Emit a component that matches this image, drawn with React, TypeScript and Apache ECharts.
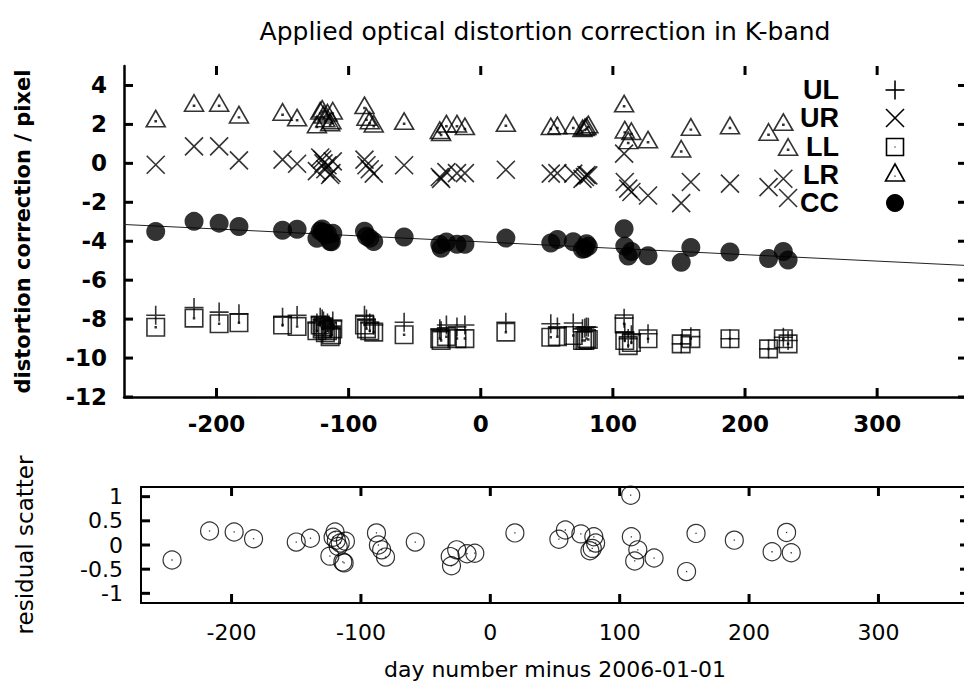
import React, { useEffect, useRef } from "react";
import * as echarts from "echarts";

// ---- data ----
const days = [-246, -217, -198, -183, -150, -139, -124, -121.5, -120, -119, -117.6, -116, -114, -113, -112, -88, -86.5, -84, -81, -58, -31, -30, -26, -18, -12, 19, 53, 58, 70, 77, 78.8, 80, 81.4, 108.5, 109, 111.6, 114, 126.6, 151.7, 159, 188.6, 217.8, 229, 232.6];
const ulVals = [-7.8, -7.4, -7.64, -7.73, -7.9, -7.81, -8.2, -7.9, -8.0, -8.1, -8.3, -8.2, -8.4, -8.5, -8.1, -7.8, -8.0, -8.2, -8.3, -8.16, -8.5, -8.6, -8.3, -8.4, -8.3, -8.16, -8.24, -8.4, -8.2, -8.5, -8.45, -8.4, -8.42, -7.95, -8.7, -9.0, -8.8, -8.75, -9.27, -8.9, -9.01, -9.53, -8.93, -9.1];
const urVals = [-0.07, 0.87, 0.87, 0.15, 0.19, -0.02, -0.4, 0.3, 0.2, 0.0, -0.3, -0.1, -0.6, -0.5, 0.1, 0.19, -0.1, -0.3, -0.53, -0.1, -0.7, -0.8, -0.45, -0.5, -0.5, -0.33, -0.53, -0.5, -0.53, -0.8, -0.7, -0.6, -0.62, 0.5, -0.96, -1.3, -1.47, -1.65, -2.04, -0.96, -1.04, -1.22, -0.79, -1.78];
const llVals = [-8.42, -7.95, -8.24, -8.19, -8.3, -8.38, -8.6, -8.3, -8.5, -8.4, -8.7, -8.6, -8.9, -8.8, -8.5, -8.3, -8.5, -8.6, -8.67, -8.8, -9.0, -9.1, -8.9, -9.0, -9.0, -8.67, -8.93, -8.9, -8.84, -9.1, -9.1, -9.0, -9.05, -8.24, -9.1, -9.36, -9.2, -9.01, -9.27, -9.0, -9.01, -9.53, -9.01, -9.27];
const lrVals = [2.3, 3.1, 3.1, 2.5, 2.64, 2.35, 2.0, 2.7, 2.8, 2.5, 2.3, 2.6, 2.1, 2.2, 2.7, 2.98, 2.38, 2.2, 2.04, 2.17, 1.7, 1.6, 2.04, 2.04, 1.9, 2.07, 1.9, 1.95, 1.95, 1.8, 1.85, 1.9, 2.0, 3.07, 1.73, 1.18, 1.65, 1.22, 0.75, 1.87, 1.95, 1.61, 2.12, 0.84];
const ccVals = [-3.5, -2.98, -3.07, -3.24, -3.44, -3.38, -3.85, -3.47, -3.37, -3.55, -3.68, -3.62, -4.01, -4.03, -3.59, -3.49, -3.74, -3.85, -4.01, -3.78, -4.17, -4.36, -4.04, -4.15, -4.16, -3.84, -4.09, -3.91, -4.03, -4.41, -4.37, -4.13, -4.26, -3.36, -4.25, -4.76, -4.53, -4.75, -5.08, -4.32, -4.55, -4.89, -4.53, -4.96];
const residVals = [-0.31, 0.29, 0.27, 0.13, 0.06, 0.14, -0.23, 0.16, 0.27, 0.1, -0.03, 0.04, -0.35, -0.37, 0.08, 0.25, 0.0, -0.1, -0.25, 0.06, -0.24, -0.43, -0.1, -0.18, -0.17, 0.25, 0.12, 0.31, 0.23, -0.12, -0.07, 0.17, 0.04, 1.03, 0.17, -0.33, -0.1, -0.27, -0.55, 0.24, 0.1, -0.14, 0.26, -0.16];
const fitDays = [-270, 368];
const fitVals = [-3.14, -5.245];

const xTicks = [-200, -100, 0, 100, 200, 300];
const yTopTicks = [-12, -10, -8, -6, -4, -2, 0, 2, 4];
const yBotTicks = [-1, -0.5, 0, 0.5, 1];
const legendNames = ["UL", "UR", "LL", "LR", "CC"];
const TITLE = "Applied optical distortion correction in K-band";

const X_MIN = -270, X_MAX_TOP = 368, X_MAX_BOT = 370;
const Y_TOP_MIN = -12, Y_TOP_MAX = 5, Y_BOT_MIN = -1.2, Y_BOT_MAX = 1.2;

const SYM_PLUS = "path://M10,0L10,20M0,10L20,10";
const SYM_CROSS = "path://M0,0L20,20M20,0L0,20";
const SYM_SQUARE = "path://M0,0L20,0L20,20L0,20Z M9.5,9.5L10.5,9.5L10.5,10.5L9.5,10.5Z";
const SYM_TRI = "path://M10,0L20,17.32L0,17.32Z M9.5,11L10.5,11L10.5,12L9.5,12Z";

const openStyle = { color: "rgba(0,0,0,0)", borderColor: "#000", borderWidth: 1.6 };
const TICK_LEN = 9;

function tickLine(x1: number, y1: number, x2: number, y2: number) {
  return { type: "line", shape: { x1, y1, x2, y2 }, style: { stroke: "#000", lineWidth: 3, fill: "none" }, z: 50 };
}

export default function App() {
  const ref = useRef<HTMLDivElement>(null);
  useEffect(() => {
    if (!ref.current) return;
    const chart = echarts.init(ref.current, null, { renderer: "svg" });
    const pair = (vals: number[]) => days.map((d, i) => [d, vals[i]]);

    const topLabel = { fontFamily: "DejaVu Sans", fontWeight: "bold" as const, fontSize: 23, color: "#000" };
    const botLabel = { fontFamily: "DejaVu Sans", fontSize: 22, color: "#000" };

    const lx = 895;
    const rows = [90, 118, 147, 175, 203];
    const graphics: any[] = [
      {
        type: "text",
        x: 545,
        y: 31,
        style: { text: TITLE, fontFamily: "DejaVu Sans", fontSize: 25, fill: "#000", align: "center", verticalAlign: "middle" },
      },
    ];
    legendNames.forEach((n, i) => {
      graphics.push({
        type: "text",
        x: 839,
        y: rows[i],
        style: { text: n, fontFamily: "Liberation Sans", fontWeight: "bold", fontSize: 27, fill: "#000", align: "right", verticalAlign: "middle" },
      });
    });
    const ls = { stroke: "#000", lineWidth: 1.6, fill: "none" };
    graphics.push(
      { type: "line", shape: { x1: lx - 9.5, y1: rows[0], x2: lx + 9.5, y2: rows[0] }, style: ls },
      { type: "line", shape: { x1: lx, y1: rows[0] - 9.5, x2: lx, y2: rows[0] + 9.5 }, style: ls },
      { type: "line", shape: { x1: lx - 9, y1: rows[1] - 9, x2: lx + 9, y2: rows[1] + 9 }, style: ls },
      { type: "line", shape: { x1: lx - 9, y1: rows[1] + 9, x2: lx + 9, y2: rows[1] - 9 }, style: ls },
      { type: "rect", shape: { x: lx - 8.5, y: rows[2] - 8.5, width: 17, height: 17 }, style: ls },
      { type: "rect", shape: { x: lx - 0.6, y: rows[2] - 0.6, width: 1.2, height: 1.2 }, style: { fill: "#000" } },
      { type: "polygon", shape: { points: [[lx, rows[3] - 11], [lx + 9.5, rows[3] + 6], [lx - 9.5, rows[3] + 6]] }, style: ls },
      { type: "rect", shape: { x: lx - 0.6, y: rows[3] + 0.5, width: 1.2, height: 1.2 }, style: { fill: "#000" } },
      { type: "circle", shape: { cx: lx, cy: rows[4], r: 9 }, style: { fill: "#000" } }
    );

    const base = (extra: any) => ({ type: "value", splitLine: { show: false }, axisTick: { show: false }, ...extra });

    chart.setOption({
      animation: false,
      backgroundColor: "#fff",
      graphic: graphics,
      grid: [
        { left: 124, top: 66, width: 843, height: 331, outerBoundsMode: "none", containLabel: false },
        { left: 141, top: 487, width: 828, height: 116, outerBoundsMode: "none", containLabel: false },
      ],
      xAxis: [
        base({
          gridIndex: 0, min: X_MIN, max: X_MAX_TOP, position: "bottom", splitNumber: 5,
          axisLine: { show: true, onZero: false, lineStyle: { color: "#000", width: 2.5 } },
          axisLabel: { show: true, showMinLabel: false, showMaxLabel: false, margin: 15, ...topLabel },
        }),
        base({
          gridIndex: 1, min: X_MIN, max: X_MAX_BOT, position: "bottom", splitNumber: 5,
          name: "day number minus 2006-01-01", nameLocation: "middle", nameGap: 55,
          nameTextStyle: { fontFamily: "DejaVu Sans", fontSize: 22, color: "#000" },
          axisLine: { show: true, onZero: false, lineStyle: { color: "#000", width: 2 } },
          axisLabel: { show: true, showMinLabel: false, showMaxLabel: false, margin: 18, ...botLabel },
        }),
        base({
          gridIndex: 1, min: X_MIN, max: X_MAX_BOT, position: "top", splitNumber: 5,
          axisLine: { show: true, onZero: false, lineStyle: { color: "#000", width: 2 } },
          axisLabel: { show: false },
        }),
      ],
      yAxis: [
        base({
          gridIndex: 0, min: Y_TOP_MIN, max: Y_TOP_MAX, interval: 2, position: "left",
          name: "distortion correction / pixel", nameLocation: "middle", nameGap: 91,
          nameTextStyle: { fontFamily: "DejaVu Sans", fontWeight: "bold", fontSize: 21, color: "#000" },
          axisLine: { show: true, onZero: false, lineStyle: { color: "#000", width: 2.5 } },
          axisLabel: { show: true, showMinLabel: true, showMaxLabel: false, margin: 17, ...topLabel },
        }),
        base({
          gridIndex: 1, min: Y_BOT_MIN, max: Y_BOT_MAX, position: "left", splitNumber: 5,
          name: "residual scatter", nameLocation: "middle", nameGap: 105,
          nameTextStyle: { fontFamily: "DejaVu Sans", fontSize: 23, color: "#000" },
          axisLine: { show: true, onZero: false, lineStyle: { color: "#000", width: 2 } },
          axisLabel: { show: true, showMinLabel: false, showMaxLabel: false, margin: 18, ...botLabel },
        }),
        base({
          gridIndex: 1, min: Y_BOT_MIN, max: Y_BOT_MAX, position: "right", splitNumber: 5,
          axisLine: { show: true, onZero: false, lineStyle: { color: "#000", width: 2 } },
          axisLabel: { show: false },
        }),
      ],
      series: [
        {
          type: "line", xAxisIndex: 0, yAxisIndex: 0, z: 1,
          data: fitDays.map((d, i) => [d, fitVals[i]]),
          symbol: "none", lineStyle: { color: "#222", width: 1 },
        },
        { name: "UL", type: "scatter", xAxisIndex: 0, yAxisIndex: 0, symbol: SYM_PLUS, symbolSize: [19, 19], itemStyle: openStyle, data: pair(ulVals) },
        { name: "UR", type: "scatter", xAxisIndex: 0, yAxisIndex: 0, symbol: SYM_CROSS, symbolSize: [18, 18], itemStyle: openStyle, data: pair(urVals) },
        { name: "LL", type: "scatter", xAxisIndex: 0, yAxisIndex: 0, symbol: SYM_SQUARE, symbolSize: [17.5, 17.5], itemStyle: openStyle, data: pair(llVals) },
        { name: "LR", type: "scatter", xAxisIndex: 0, yAxisIndex: 0, symbol: SYM_TRI, symbolSize: [19, 16.5], itemStyle: openStyle, data: pair(lrVals) },
        { name: "CC", type: "scatter", xAxisIndex: 0, yAxisIndex: 0, symbol: "circle", symbolSize: 19, itemStyle: { color: "#000" }, data: pair(ccVals) },
        { name: "residual", type: "scatter", xAxisIndex: 1, yAxisIndex: 1, symbol: "circle", symbolSize: 18, itemStyle: { color: "rgba(0,0,0,0)", borderColor: "#000", borderWidth: 1.2 }, data: pair(residVals) },
        { name: "residual-dot", type: "scatter", xAxisIndex: 1, yAxisIndex: 1, symbol: "rect", symbolSize: 1.3, itemStyle: { color: "#000" }, data: pair(residVals) },
      ],
    });

    // mirrored inside ticks, positioned through the library's own axis scales
    const tickEls: any[] = [];
    const addX = (gridIndex: number, yMin: number, yMax: number) => {
      xTicks.forEach((v) => {
        const b = chart.convertToPixel({ gridIndex }, [v, yMin]) as number[];
        const t = chart.convertToPixel({ gridIndex }, [v, yMax]) as number[];
        if (!b || !t) return;
        tickEls.push(tickLine(b[0], b[1], b[0], b[1] - TICK_LEN), tickLine(t[0], t[1], t[0], t[1] + TICK_LEN));
      });
    };
    const addY = (gridIndex: number, ticks: number[], xMin: number, xMax: number) => {
      ticks.forEach((v) => {
        const l = chart.convertToPixel({ gridIndex }, [xMin, v]) as number[];
        const r = chart.convertToPixel({ gridIndex }, [xMax, v]) as number[];
        if (!l || !r) return;
        tickEls.push(tickLine(l[0], l[1], l[0] + TICK_LEN, l[1]), tickLine(r[0], r[1], r[0] - TICK_LEN, r[1]));
      });
    };
    addX(0, Y_TOP_MIN, Y_TOP_MAX);
    addY(0, yTopTicks, X_MIN, X_MAX_TOP);
    addX(1, Y_BOT_MIN, Y_BOT_MAX);
    addY(1, yBotTicks, X_MIN, X_MAX_BOT);
    chart.setOption({ graphic: [...graphics, ...tickEls] });

    return () => chart.dispose();
  }, []);
  return <div ref={ref} style={{ position: "absolute", left: 0, top: 0, width: 964, height: 688, background: "#fff" }} />;
}
